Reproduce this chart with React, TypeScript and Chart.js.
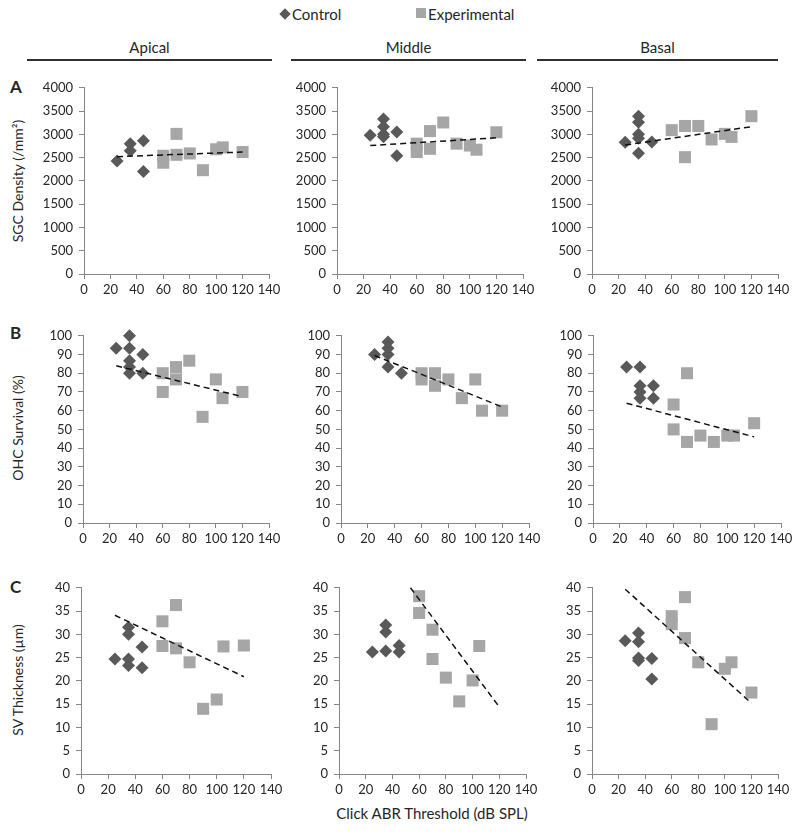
import React, { useEffect, useRef } from 'react';
import { Chart, registerables } from 'chart.js';
Chart.register(...registerables);

const FONT = 'Lato, "Open Sans", sans-serif';
const CTRL_COLOR = '#595959';
const EXP_COLOR = '#A6A6A6';
const AXIS_COLOR = '#868686';
const TEXT_COLOR = '#262626';

const xTickMax = 140;
const xTickStep = 20;

// ---- Row A: SGC Density (/mm²) ----
const ctrlApicalA_x = [25, 35, 35, 45, 45];
const ctrlApicalA_y = [2430, 2800, 2650, 2860, 2200];
const expApicalA_x = [60, 60, 70, 70, 80, 90, 100, 105, 120];
const expApicalA_y = [2540, 2390, 3010, 2560, 2590, 2230, 2680, 2720, 2620];
const trendApicalA_x = [25, 120];
const trendApicalA_y = [2520, 2620];

const ctrlMiddleA_x = [25, 35, 35, 35, 35, 45, 45];
const ctrlMiddleA_y = [2980, 3330, 3165, 3000, 2950, 3050, 2540];
const expMiddleA_x = [60, 60, 70, 70, 80, 90, 100, 105, 120];
const expMiddleA_y = [2800, 2620, 3070, 2690, 3255, 2800, 2760, 2670, 3045];
const trendMiddleA_x = [25, 120];
const trendMiddleA_y = [2760, 2925];

const ctrlBasalA_x = [25, 35, 35, 35, 35, 35, 45];
const ctrlBasalA_y = [2830, 3390, 3260, 3000, 2915, 2595, 2835];
const expBasalA_x = [60, 70, 70, 80, 90, 100, 105, 120];
const expBasalA_y = [3090, 3180, 2510, 3180, 2890, 3010, 2945, 3390];
const trendBasalA_x = [25, 120];
const trendBasalA_y = [2770, 3165];

// ---- Row B: OHC Survival (%) ----
const ctrlApicalB_x = [25, 35, 35, 35, 35, 35, 45, 45];
const ctrlApicalB_y = [93.3, 100, 93.3, 86.7, 83.3, 80, 90, 80];
const expApicalB_x = [60, 60, 70, 70, 80, 90, 100, 105, 120];
const expApicalB_y = [80, 70, 83.3, 76.7, 86.7, 56.7, 76.7, 66.7, 70];
const trendApicalB_x = [25, 120];
const trendApicalB_y = [84, 67.5];

const ctrlMiddleB_x = [25, 35, 35, 35, 35, 45];
const ctrlMiddleB_y = [90, 96.7, 93.3, 90, 83.3, 80];
const expMiddleB_x = [60, 60, 70, 70, 80, 90, 100, 105, 120];
const expMiddleB_y = [80, 76.7, 80, 73.3, 76.7, 66.7, 76.7, 60, 60];
const trendMiddleB_x = [25, 120];
const trendMiddleB_y = [89.5, 62];

const ctrlBasalB_x = [25, 35, 35, 35, 35, 45, 45];
const ctrlBasalB_y = [83.3, 83.3, 73.3, 70, 66.7, 73.3, 66.7];
const expBasalB_x = [60, 60, 70, 70, 80, 90, 100, 105, 120];
const expBasalB_y = [63.3, 50, 80, 43.3, 46.7, 43.3, 46.7, 46.7, 53.3];
const trendBasalB_x = [25, 120];
const trendBasalB_y = [64, 46];

// ---- Row C: SV Thickness (µm) ----
const ctrlApicalC_x = [25, 35, 35, 35, 35, 45, 45];
const ctrlApicalC_y = [24.7, 31.5, 30, 24.7, 23.3, 27.3, 22.8];
const expApicalC_x = [60, 60, 70, 70, 80, 90, 100, 105, 120];
const expApicalC_y = [32.8, 27.5, 36.3, 27, 24, 14, 16, 27.4, 27.6];
const trendApicalC_x = [25, 120];
const trendApicalC_y = [34.1, 20.9];

const ctrlMiddleC_x = [25, 35, 35, 35, 45, 45];
const ctrlMiddleC_y = [26.2, 32, 30.5, 26.4, 27.6, 26.2];
const expMiddleC_x = [60, 60, 70, 70, 80, 90, 100, 105];
const expMiddleC_y = [38.2, 34.6, 31, 24.7, 20.7, 15.6, 20.1, 27.5];
const trendMiddleC_x = [53.5, 120];
const trendMiddleC_y = [40, 14.4];

const ctrlBasalC_x = [25, 35, 35, 35, 35, 45, 45];
const ctrlBasalC_y = [28.6, 30.3, 28.4, 24.9, 24.4, 24.8, 20.4];
const expBasalC_x = [60, 60, 70, 70, 80, 90, 100, 105, 120];
const expBasalC_y = [33.9, 32.2, 38, 29.2, 24, 10.7, 22.6, 24, 17.5];
const trendBasalC_x = [25, 120];
const trendBasalC_y = [39.7, 15.2];

const PAD_L = 62;
const PAD_T = 12;
const PAD_R = 18;
const PAD_B = 30;

type Box = { l: number; r: number; t: number; b: number };

type PanelProps = {
  box: Box;
  cx: number[];
  cy: number[];
  ex: number[];
  ey: number[];
  tx: number[];
  ty: number[];
  yMax: number;
  yStep: number;
};

const pts = (xs: number[], ys: number[]) => xs.map((x, i) => ({ x, y: ys[i] }));

function Panel({ box, cx, cy, ex, ey, tx, ty, yMax, yStep }: PanelProps) {
  const ref = useRef<HTMLCanvasElement>(null);
  const width = Math.round(box.r - box.l + PAD_L + PAD_R);
  const height = Math.round(box.b - box.t + PAD_T + PAD_B);
  useEffect(() => {
    const tickFont = { family: FONT, size: 13 };
    const chart = new Chart(ref.current as HTMLCanvasElement, {
      type: 'scatter',
      data: {
        datasets: [
          {
            type: 'line',
            data: pts(tx, ty),
            borderColor: '#111',
            borderWidth: 1.5,
            borderDash: [6, 4],
            pointRadius: 0,
            fill: false,
            showLine: true,
            order: 0,
            clip: false,
          } as any,
          {
            data: pts(cx, cy),
            pointStyle: 'rectRot',
            pointRadius: 6.5,
            backgroundColor: CTRL_COLOR,
            borderWidth: 0,
            order: 1,
            clip: false,
          } as any,
          {
            data: pts(ex, ey),
            pointStyle: 'rect',
            pointRadius: 8.5,
            backgroundColor: EXP_COLOR,
            borderWidth: 0,
            order: 2,
            clip: false,
          } as any,
        ],
      },
      options: {
        responsive: false,
        animation: false,
        events: [],
        layout: { padding: { top: PAD_T, right: PAD_R, left: 0, bottom: 0 } },
        plugins: { legend: { display: false }, tooltip: { enabled: false } },
        scales: {
          x: {
            type: 'linear',
            min: 0,
            max: xTickMax,
            ticks: { stepSize: xTickStep, font: tickFont, color: TEXT_COLOR, padding: 3, maxRotation: 0, callback: (v: any) => String(v) },
            grid: { drawOnChartArea: false, drawTicks: true, tickLength: 5, color: AXIS_COLOR },
            border: { color: AXIS_COLOR, width: 1 },
            afterFit: (s: any) => { s.height = PAD_B; },
          },
          y: {
            type: 'linear',
            min: 0,
            max: yMax,
            ticks: { stepSize: yStep, font: tickFont, color: TEXT_COLOR, padding: 6, callback: (v: any) => String(v) },
            grid: { drawOnChartArea: false, drawTicks: true, tickLength: 5, color: AXIS_COLOR },
            border: { color: AXIS_COLOR, width: 1 },
            afterFit: (s: any) => { s.width = PAD_L; },
          },
        },
      } as any,
    });
    return () => chart.destroy();
  }, []);
  return (
    <canvas
      ref={ref}
      width={width}
      height={height}
      style={{ position: 'absolute', left: Math.round(box.l - PAD_L), top: Math.round(box.t - PAD_T), width, height }}
    />
  );
}

const abs = (extra: React.CSSProperties): React.CSSProperties => ({
  position: 'absolute',
  fontFamily: FONT,
  color: TEXT_COLOR,
  whiteSpace: 'nowrap',
  ...extra,
});

function Header({ text, l, r }: { text: string; l: number; r: number }) {
  return (
    <>
      <div style={abs({ left: l, width: r - l, top: 38, textAlign: 'center', fontSize: 15, lineHeight: '18px' })}>{text}</div>
      <div style={{ position: 'absolute', left: l, width: r - l, top: 59, height: 2, background: '#303030' }} />
    </>
  );
}

function YTitle({ text, cy }: { text: string; cy: number }) {
  return (
    <div
      style={abs({
        left: 18,
        top: cy,
        fontSize: 14,
        lineHeight: '16px',
        transform: 'translate(-50%, -50%) rotate(-90deg)',
      })}
    >
      {text}
    </div>
  );
}

export default function App() {
  const rowA = { t: 86, b: 274 };
  const rowB = { t: 333.5, b: 522.5 };
  const rowC = { t: 585.5, b: 773 };
  return (
    <div style={{ position: 'absolute', left: 0, top: 0, width: 800, height: 832, background: '#fff', overflow: 'hidden' }}>
      {/* Legend */}
      <div style={{ position: 'absolute', left: 281, top: 10, width: 8, height: 8, background: CTRL_COLOR, transform: 'rotate(45deg)' }} />
      <div style={abs({ left: 292, top: 5, fontSize: 15, lineHeight: '18px' })}>Control</div>
      <div style={{ position: 'absolute', left: 416, top: 8, width: 10, height: 10, background: EXP_COLOR }} />
      <div style={abs({ left: 428, top: 5, fontSize: 15, lineHeight: '18px' })}>Experimental</div>

      <Header text="Apical" l={27} r={272} />
      <Header text="Middle" l={291} r={526} />
      <Header text="Basal" l={537} r={778} />

      <div style={abs({ left: 10, top: 77, fontSize: 17, fontWeight: 700, lineHeight: '20px' })}>A</div>
      <div style={abs({ left: 10, top: 323, fontSize: 17, fontWeight: 700, lineHeight: '20px' })}>B</div>
      <div style={abs({ left: 10, top: 577, fontSize: 17, fontWeight: 700, lineHeight: '20px' })}>C</div>

      <YTitle text="SGC Density (/mm²)" cy={181} />
      <YTitle text="OHC Survival (%)" cy={428} />
      <YTitle text="SV Thickness (µm)" cy={680} />

      <div style={abs({ left: 432, top: 813, fontSize: 15, lineHeight: '18px', transform: 'translate(-50%, -50%)' })}>
        Click ABR Threshold (dB SPL)
      </div>

      <Panel box={{ l: 84, r: 269, ...rowA }} cx={ctrlApicalA_x} cy={ctrlApicalA_y} ex={expApicalA_x} ey={expApicalA_y} tx={trendApicalA_x} ty={trendApicalA_y} yMax={4000} yStep={500} />
      <Panel box={{ l: 337, r: 523, ...rowA }} cx={ctrlMiddleA_x} cy={ctrlMiddleA_y} ex={expMiddleA_x} ey={expMiddleA_y} tx={trendMiddleA_x} ty={trendMiddleA_y} yMax={4000} yStep={500} />
      <Panel box={{ l: 592, r: 778, ...rowA }} cx={ctrlBasalA_x} cy={ctrlBasalA_y} ex={expBasalA_x} ey={expBasalA_y} tx={trendBasalA_x} ty={trendBasalA_y} yMax={4000} yStep={500} />

      <Panel box={{ l: 83, r: 269, ...rowB }} cx={ctrlApicalB_x} cy={ctrlApicalB_y} ex={expApicalB_x} ey={expApicalB_y} tx={trendApicalB_x} ty={trendApicalB_y} yMax={100} yStep={10} />
      <Panel box={{ l: 341, r: 529, ...rowB }} cx={ctrlMiddleB_x} cy={ctrlMiddleB_y} ex={expMiddleB_x} ey={expMiddleB_y} tx={trendMiddleB_x} ty={trendMiddleB_y} yMax={100} yStep={10} />
      <Panel box={{ l: 593, r: 781, ...rowB }} cx={ctrlBasalB_x} cy={ctrlBasalB_y} ex={expBasalB_x} ey={expBasalB_y} tx={trendBasalB_x} ty={trendBasalB_y} yMax={100} yStep={10} />

      <Panel box={{ l: 81, r: 271, ...rowC }} cx={ctrlApicalC_x} cy={ctrlApicalC_y} ex={expApicalC_x} ey={expApicalC_y} tx={trendApicalC_x} ty={trendApicalC_y} yMax={40} yStep={5} />
      <Panel box={{ l: 339, r: 526, ...rowC }} cx={ctrlMiddleC_x} cy={ctrlMiddleC_y} ex={expMiddleC_x} ey={expMiddleC_y} tx={trendMiddleC_x} ty={trendMiddleC_y} yMax={40} yStep={5} />
      <Panel box={{ l: 592, r: 778, ...rowC }} cx={ctrlBasalC_x} cy={ctrlBasalC_y} ex={expBasalC_x} ey={expBasalC_y} tx={trendBasalC_x} ty={trendBasalC_y} yMax={40} yStep={5} />
    </div>
  );
}
